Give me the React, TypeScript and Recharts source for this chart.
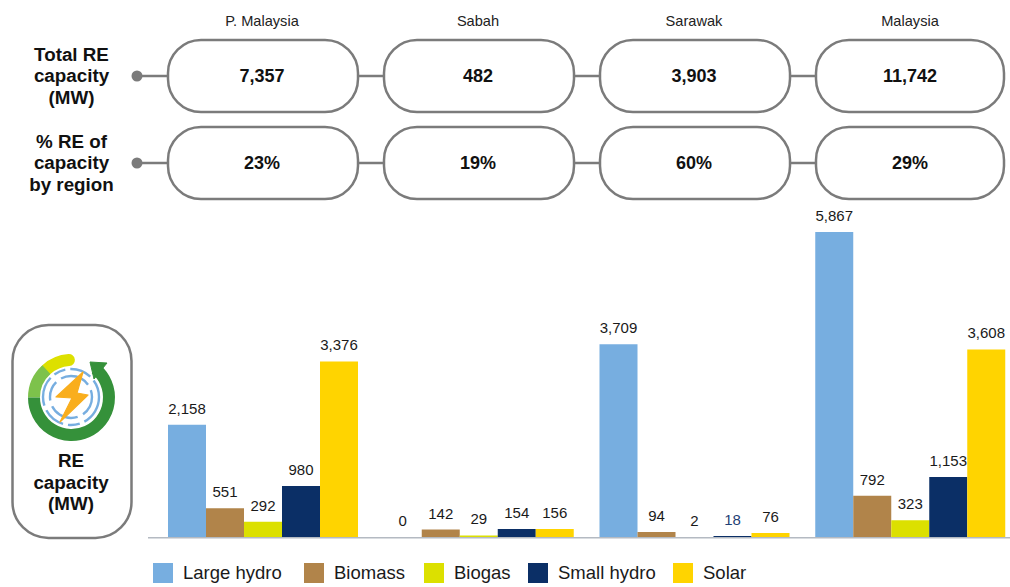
import React from 'react';
import { BarChart, Bar, XAxis, YAxis, LabelList, Legend } from 'recharts';

const regions = ['P. Malaysia', 'Sabah', 'Sarawak', 'Malaysia'];
const largeHydro = [2158, 0, 3709, 5867];
const biomass = [551, 142, 94, 792];
const biogas = [292, 29, 2, 323];
const smallHydro = [980, 154, 18, 1153];
const solar = [3376, 156, 76, 3608];
const totalCapacity = ['7,357', '482', '3,903', '11,742'];
const shareOfCapacity = ['23%', '19%', '60%', '29%'];

const seriesNames = ['Large hydro', 'Biomass', 'Biogas', 'Small hydro', 'Solar'];
const seriesColors = ['#77aee0', '#b1844a', '#dce000', '#0b2f66', '#ffd400'];
const seriesValues = [largeHydro, biomass, biogas, smallHydro, solar];

const rows = regions.map((region, i) => {
  const row: Record<string, string | number> = { region };
  seriesNames.forEach((n, s) => { row[n] = seriesValues[s][i]; });
  return row;
});

const FONT = '"Liberation Sans", Arial, sans-serif';
const GREY = '#7b7b7b';
const pillX = [168, 384, 600, 816];
const pillW = 190;
const legendX = [153, 304, 424, 528, 673];

const fmt = (v: number) => Number(v).toLocaleString('en-US');

const ValueLabel = (props: any) => {
  const { x, y, width, value } = props;
  const fill = value === 18 ? '#1f3f75' : '#1a1a1a';
  return (
    <text x={x + width / 2} y={y - 11} textAnchor="middle" fontFamily={FONT} fontSize={15} fill={fill}>
      {fmt(value)}
    </text>
  );
};

const LegendContent = () => (
  <div style={{ position: 'relative', width: 1010, height: 0 }}>
    {seriesNames.map((name, i) => (
      <div key={name} style={{ position: 'absolute', left: legendX[i], top: 0, display: 'flex', alignItems: 'center', height: 20 }}>
        <span style={{ width: 20, height: 20, background: seriesColors[i], display: 'block', marginRight: 10 }} />
        <span style={{ fontFamily: FONT, fontSize: 18.5, color: '#1a1a1a', whiteSpace: 'nowrap' }}>{name}</span>
      </div>
    ))}
  </div>
);

const Row = ({ y, values, labels }: { y: number; values: string[]; labels: string[] }) => (
  <g>
    <line x1={137} x2={1004} y1={y} y2={y} stroke={GREY} strokeWidth={2.5} />
    <circle cx={137} cy={y} r={5.5} fill={GREY} />
    {values.map((v, i) => (
      <g key={i}>
        <rect x={pillX[i]} y={y - 36} width={i === 3 ? 188 : pillW} height={72} rx={33} fill="#fff" stroke={GREY} strokeWidth={2.5} />
        <text x={pillX[i] + 94} y={y + 6} textAnchor="middle" fontFamily={FONT} fontWeight={700} fontSize={18} fill="#111">{v}</text>
      </g>
    ))}
    {labels.map((l, i) => (
      <text key={l} x={71.5} y={y - 15.5 + i * 21.5} textAnchor="middle" fontFamily={FONT} fontWeight={700} fontSize={18.8} fill="#111">{l}</text>
    ))}
  </g>
);

const polar = (r: number, deg: number) => {
  const a = (deg - 90) * Math.PI / 180;
  return [71.5 + r * Math.cos(a), 397.5 + r * Math.sin(a)];
};
const arc = (r: number, a0: number, a1: number) => {
  const [x0, y0] = polar(r, a0);
  const [x1, y1] = polar(r, a1);
  return `M${x0} ${y0}A${r} ${r} 0 ${a1 - a0 > 180 ? 1 : 0} 1 ${x1} ${y1}`;
};

const Icon = () => (
  <g fill="none">
    <path d={arc(37.5, 318, 356)} stroke="#dde000" strokeWidth={12} strokeLinecap="round" />
    <path d={arc(37.5, 270, 318)} stroke="#7dc24b" strokeWidth={12} />
    <path d={arc(37.5, 40, 270)} stroke="#35913a" strokeWidth={12} />
    <path d="M90 362 L107 363 L94 379 Z" fill="#35913a" stroke="#35913a" strokeWidth={1} strokeLinejoin="round" />
    <circle cx={71} cy={397} r={28} stroke="#77aee0" strokeWidth={2.4} strokeDasharray="30 5 12 5 22 5" />
    <circle cx={71} cy={397} r={21} stroke="#77aee0" strokeWidth={2.4} strokeDasharray="20 6 30 6" />
    <path d="M83 372 L56 397 L72 398 L60 422 L88 395 L77 393 Z" fill="#f9ae1d" stroke="#f9ae1d" strokeWidth={1.2} strokeLinejoin="round" />
  </g>
);

export default function App() {
  return (
    <div style={{ position: 'absolute', left: 0, top: 0, width: 1010, height: 587, overflow: 'hidden', background: '#fff' }}>
      <BarChart width={1030} height={587} data={rows} barSize={38} barGap={0} barCategoryGap={0}
        margin={{ top: 225, right: 12, bottom: 49, left: 148 }}>
        <XAxis dataKey="region" tick={false} tickLine={false} height={1} padding={{ left: 7, right: 0 }}
          axisLine={{ stroke: '#b4bac2', strokeWidth: 1.5, transform: 'translate(0,0.8)' }} />
        <YAxis hide domain={[0, 6000]} />
        <Legend content={<LegendContent />} verticalAlign="bottom" wrapperStyle={{ left: 0, top: 563, bottom: 'auto', width: 1010 }} />
        {seriesNames.map((n, s) => (
          <Bar key={n} dataKey={n} fill={seriesColors[s]} isAnimationActive={false} minPointSize={0.01}>
            <LabelList dataKey={n} content={(p: any) => <ValueLabel {...p} />} />
          </Bar>
        ))}
      </BarChart>
      <svg width={1010} height={587} style={{ position: 'absolute', left: 0, top: 0, pointerEvents: 'none' }}>
        {regions.map((r, i) => (
          <text key={r} x={pillX[i] + 94} y={26} textAnchor="middle" fontFamily={FONT} fontSize={14.6} fill="#222">{r}</text>
        ))}
        <Row y={76} values={totalCapacity} labels={['Total RE', 'capacity', '(MW)']} />
        <Row y={163} values={shareOfCapacity} labels={['% RE of', 'capacity', 'by region']} />
        <rect x={12.5} y={325} width={119} height={213} rx={36} fill="#fff" stroke={GREY} strokeWidth={2.5} />
        <Icon />
        {['RE', 'capacity', '(MW)'].map((l, i) => (
          <text key={l} x={71} y={467 + i * 21.5} textAnchor="middle" fontFamily={FONT} fontWeight={700} fontSize={18.8} fill="#111">{l}</text>
        ))}
      </svg>
    </div>
  );
}
